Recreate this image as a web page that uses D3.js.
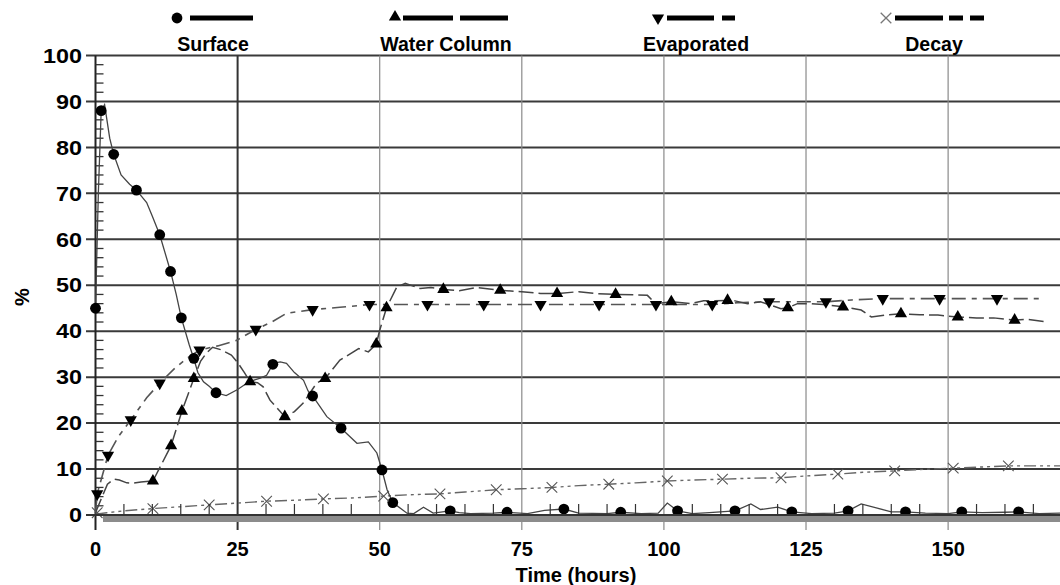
<!DOCTYPE html>
<html><head><meta charset="utf-8">
<script src="https://cdn.jsdelivr.net/npm/d3@7"></script>
<style>
html,body{margin:0;padding:0;background:#fff;}
text{font-family:"Liberation Sans",Arial,sans-serif;font-weight:bold;fill:#000;}
</style></head><body>
<svg id="c" width="1060" height="585"></svg>
<script>
const yTicks = [0,10,20,30,40,50,60,70,80,90,100];
const xTicks = [0,25,50,75,100,125,150];
const seriesNames = ["Surface","Water Column","Evaporated","Decay"];

const surfaceLine = [[0,45],[0.5,70],[1,88],[1.6,89.3],[2.5,82],[3.2,78.5],[4.5,74],[6,72],[7.2,70.7],[9,68],[10,65],[11.3,61],[13.2,53],[14.2,48],[15.1,42.9],[16.5,37],[17.3,34],[18,31],[19,29],[20,28],[21.2,26.6],[23,26],[25,27.3],[27,29],[29,29.8],[30.1,30.4],[31.3,33],[32.5,33.3],[33.6,33],[35,31],[36.6,29.3],[37.4,27],[38.2,25.9],[40.7,21.4],[43.2,18.9],[46,15.6],[48,15.9],[49.5,13.5],[50.4,9.8],[51.3,5.5],[52.3,2.7],[54.8,0.4],[56,0.3],[57.7,1.7],[59.4,0.4],[62.4,0.9],[64,0.5],[66,0.3],[70,0.4],[72.4,0.6],[76,0.3],[79,1],[82.4,1.3],[85,0.4],[90,0.3],[92.4,0.6],[96,0.3],[99,0.4],[100.6,2.6],[102.4,0.9],[105,0.3],[108,0.5],[112.5,0.9],[115.3,2.4],[117,1.2],[120,1.7],[122.5,0.7],[126,0.3],[130,0.4],[132.4,0.9],[134.7,2.4],[140,0.7],[142.5,0.7],[146,0.4],[150,0.3],[152.4,0.7],[156,0.5],[160,0.6],[162.4,0.7],[166,0.3],[170,0.4]];
const surfaceMarks = [[0,45],[1,88],[3.2,78.5],[7.2,70.7],[11.3,61],[13.2,53],[15.1,42.9],[17.3,34.1],[21.2,26.6],[31.2,32.8],[38.2,25.9],[43.2,18.9],[50.4,9.8],[52.3,2.7],[62.4,0.9],[72.4,0.6],[82.4,1.3],[92.4,0.6],[102.4,0.9],[112.5,0.9],[122.5,0.7],[132.4,0.9],[142.5,0.7],[152.4,0.7],[162.4,0.7]];

const waterLine = [[0,0.5],[1,3.5],[2.1,6.7],[3.2,7.8],[4.2,7.6],[5.5,7],[6.5,6.9],[8,7.2],[10.1,7.4],[13.3,15.1],[15.2,22.6],[17.3,29.7],[18.5,33.5],[19.5,35.2],[20.6,36.5],[22,36],[23.9,34.8],[25,33.2],[26.2,31],[27.2,29],[28.5,28.8],[29.5,27.9],[30.7,25],[33.3,21.4],[35,22.5],[36.5,24.3],[38.9,28.7],[40.4,29.7],[43,33.7],[46.3,36.2],[48,35.5],[49.4,37.2],[50,40.2],[51.2,45.1],[53,49.6],[54.5,50.4],[57.1,49.3],[59,49.5],[61.2,49.1],[64,48.8],[67,49.5],[71.2,48.9],[75,48.6],[78.3,48.2],[81.2,48.2],[85,48.6],[88,48.2],[91.5,48],[95,47.9],[97.1,47.8],[98.5,46],[101.3,46.4],[104.7,46],[107,46.6],[111.2,46.7],[112.5,46.6],[114.7,46],[117,46.4],[120.6,44.9],[121.8,45.1],[123.5,46],[126,46],[129,45.7],[131.5,45.3],[134.7,44.6],[136.5,43.1],[138.8,43.5],[141.7,43.8],[145,43.6],[148.2,43.5],[151.7,43.1],[155,42.9],[158,42.9],[161.7,42.4],[164,42.6],[167.3,42]];
const waterMarks = [[10.1,7.4],[13.3,15.1],[15.2,22.6],[17.3,29.7],[27.2,29],[33.3,21.4],[40.4,29.7],[49.4,37.2],[51.2,45.1],[61.2,49.1],[71.2,48.9],[81.2,48.2],[91.5,48],[101.3,46.4],[111.2,46.7],[121.8,45.1],[131.5,45.3],[141.7,43.8],[151.7,43.1],[161.7,42.4]];

const evapLine = [[0,0.5],[0.3,4.6],[2.2,13],[4,17],[6.2,20.7],[9,25.5],[11.3,28.7],[14,32],[16,34],[18.3,35.9],[21.5,36.8],[24.8,38],[28.2,40.4],[31,42],[33.6,43.9],[38.2,44.7],[43,45.2],[48.2,45.8],[58.4,45.8],[68.3,45.8],[78.3,45.8],[88.6,45.8],[98.6,45.8],[108.5,45.8],[113,46.2],[118.5,46.4],[128.5,46.4],[133,46.8],[138.5,47.1],[148.5,47.1],[158.6,47.1],[166.7,47.1]];
const evapMarks = [[0.3,4.6],[2.2,13],[6.2,20.7],[11.3,28.7],[18.3,35.9],[28.2,40.4],[38.2,44.7],[48.2,45.8],[58.4,45.8],[68.3,45.8],[78.3,45.8],[88.6,45.8],[98.6,45.8],[108.5,45.8],[118.5,46.4],[128.5,46.4],[138.5,47.1],[148.5,47.1],[158.6,47.1]];

const decayLine = [[0,0.2],[2,0.5],[5,0.9],[10.1,1.4],[15,1.8],[20,2.2],[25,2.6],[30.1,3],[35,3.2],[40.1,3.5],[45,3.7],[50.7,4.1],[55,4.4],[60.6,4.6],[65,5],[70.5,5.5],[75,5.7],[80.3,6],[85,6.4],[90.3,6.7],[95,7],[100.6,7.4],[105,7.6],[110.3,7.8],[115,8],[120.6,8.1],[125,8.5],[130.6,8.9],[135,9.3],[140.6,9.6],[145,9.9],[150.9,10.2],[155,10.4],[160.6,10.7],[170,10.7]];
const decayMarks = [[0.3,0.5],[10.1,1.4],[20,2.2],[30.1,3],[40.1,3.5],[50.7,4.1],[60.6,4.6],[70.5,5.5],[80.3,6],[90.3,6.7],[100.6,7.4],[110.3,7.8],[120.6,8.1],[130.6,8.9],[140.6,9.6],[150.9,10.2],[160.6,10.7]];

const svg = d3.select("#c");
const x = d3.scaleLinear().domain([0,170]).range([95.5,1061.8]);
const y = d3.scaleLinear().domain([0,100]).range([515,55.5]);

svg.append("g").selectAll("line").data(yTicks).join("line")
  .attr("x1",86).attr("x2",1060).attr("y1",d=>y(d)).attr("y2",d=>y(d))
  .attr("stroke","#3a3a3a").attr("stroke-width",2);
svg.append("g").selectAll("line").data(xTicks.filter(d=>d>0)).join("line")
  .attr("x1",d=>x(d)).attr("x2",d=>x(d)).attr("y1",55.5).attr("y2",530)
  .attr("stroke",d=>d===25?"#333":"#8a8a8a").attr("stroke-width",d=>d===25?2:1.2);
svg.append("line").attr("x1",x(0)).attr("x2",x(0)).attr("y1",55.5).attr("y2",530)
  .attr("stroke","#222").attr("stroke-width",2);
svg.append("g").selectAll("line").data(d3.range(0,100,2).filter(d=>d%10!==0)).join("line")
  .attr("x1",x(0)).attr("x2",x(0)+8).attr("y1",d=>y(d)).attr("y2",d=>y(d))
  .attr("stroke","#333").attr("stroke-width",1.3);

svg.append("g").selectAll("text").data(yTicks).join("text")
  .attr("x",82).attr("y",d=>y(d)).attr("dy","0.36em").attr("text-anchor","end")
  .attr("font-size",20).attr("textLength",d=>String(d).length*13).attr("lengthAdjust","spacingAndGlyphs").text(d=>d);
svg.append("g").selectAll("text").data(xTicks).join("text")
  .attr("x",d=>x(d)).attr("y",549).attr("dy","0.36em").attr("text-anchor","middle")
  .attr("font-size",20).text(d=>d);
svg.append("text").attr("x",576).attr("y",575).attr("dy","0.36em").attr("text-anchor","middle")
  .attr("font-size",20).text("Time (hours)");
svg.append("text").attr("transform","translate(22,297) rotate(-90)").attr("dy","0.36em")
  .attr("text-anchor","middle").attr("font-size",20).text("%");

const line = d3.line().x(d=>x(d[0])).y(d=>y(d[1]));
const plot = svg.append("g");
plot.append("path").datum(decayLine).attr("d",line).attr("fill","none")
  .attr("stroke","#666").attr("stroke-width",1.4).attr("stroke-dasharray","12,4,3,4,3,4");
plot.append("path").datum(evapLine).attr("d",line).attr("fill","none")
  .attr("stroke","#555").attr("stroke-width",1.6).attr("stroke-dasharray","14,6,5,6");
plot.append("path").datum(waterLine).attr("d",line).attr("fill","none")
  .attr("stroke","#444").attr("stroke-width",1.5).attr("stroke-dasharray","15,5");
plot.append("path").datum(surfaceLine).attr("d",line).attr("fill","none")
  .attr("stroke","#444").attr("stroke-width",1.3);

const tri = d3.symbol().type(d3.symbolTriangle).size(65);
plot.append("g").selectAll("path").data(waterMarks).join("path")
  .attr("d",tri).attr("transform",d=>`translate(${x(d[0])},${y(d[1])})`).attr("fill","#000");
plot.append("g").selectAll("path").data(evapMarks).join("path")
  .attr("d",tri).attr("transform",d=>`translate(${x(d[0])},${y(d[1])}) rotate(180)`).attr("fill","#000");
plot.append("g").selectAll("circle").data(surfaceMarks).join("circle")
  .attr("cx",d=>x(d[0])).attr("cy",d=>y(d[1])).attr("r",5.4).attr("fill","#000");
const cross = d3.symbol().type(d3.symbolX).size(75);
plot.append("g").selectAll("path").data(decayMarks).join("path")
  .attr("d",cross).attr("transform",d=>`translate(${x(d[0])},${y(d[1])})`)
  .attr("fill","none").attr("stroke","#555").attr("stroke-width",1.1);

svg.append("g").selectAll("line").data(d3.range(5,170,5).filter(d=>d%25!==0)).join("line")
  .attr("x1",d=>x(d)).attr("x2",d=>x(d)).attr("y1",515).attr("y2",504)
  .attr("stroke","#333").attr("stroke-width",1.2);
svg.append("rect").attr("x",103).attr("y",516).attr("width",957).attr("height",6).attr("fill","#8c8c8c");
svg.append("line").attr("x1",86).attr("x2",1060).attr("y1",515).attr("y2",515)
  .attr("stroke","#333").attr("stroke-width",2);

const lg = svg.append("g");
lg.append("circle").attr("cx",177).attr("cy",18).attr("r",5.4).attr("fill","#000");
lg.append("line").attr("x1",190).attr("x2",253).attr("y1",18).attr("y2",18).attr("stroke","#000").attr("stroke-width",5);
lg.append("path").attr("d",tri).attr("transform","translate(395,17)").attr("fill","#000");
lg.append("line").attr("x1",403).attr("x2",508).attr("y1",18).attr("y2",18).attr("stroke","#000").attr("stroke-width",5).attr("stroke-dasharray","50,7");
lg.append("path").attr("d",tri).attr("transform","translate(658,18) rotate(180)").attr("fill","#000");
lg.append("line").attr("x1",667).attr("x2",735).attr("y1",18).attr("y2",18).attr("stroke","#000").attr("stroke-width",5).attr("stroke-dasharray","47,8,13,8");
lg.append("path").attr("d",cross).attr("transform","translate(886,18)").attr("fill","none").attr("stroke","#777").attr("stroke-width",1.3);
lg.append("line").attr("x1",895).attr("x2",984).attr("y1",18).attr("y2",18).attr("stroke","#000").attr("stroke-width",5).attr("stroke-dasharray","48,6,14,7,14,7");
const legX = [213,446,696,934];
lg.selectAll("text").data(seriesNames).join("text")
  .attr("x",(d,i)=>legX[i]).attr("y",44).attr("dy","0.36em").attr("text-anchor","middle")
  .attr("font-size",19.5).text(d=>d);
</script></body></html>
